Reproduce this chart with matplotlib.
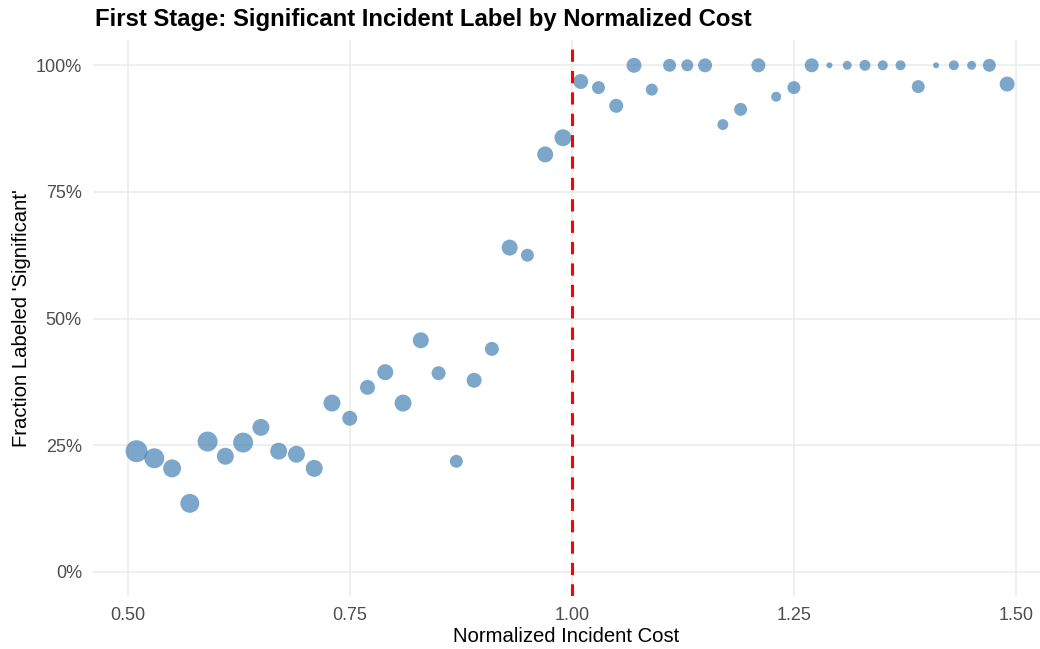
import matplotlib.pyplot as plt
from matplotlib.ticker import PercentFormatter
import numpy as np

plt.rcParams['font.family'] = ['Liberation Sans', 'DejaVu Sans']

# binned normalized cost (bin centers)
cost_bin = [0.51, 0.53, 0.55, 0.57, 0.59, 0.61, 0.63, 0.65, 0.67, 0.69,
            0.71, 0.73, 0.75, 0.77, 0.79, 0.81, 0.83, 0.85, 0.87, 0.89,
            0.91, 0.93, 0.95, 0.97, 0.99, 1.01, 1.03, 1.05, 1.07, 1.09,
            1.11, 1.13, 1.15, 1.17, 1.19, 1.21, 1.23, 1.25, 1.27, 1.29,
            1.31, 1.33, 1.35, 1.37, 1.39, 1.41, 1.43, 1.45, 1.47, 1.49]

# fraction labeled significant
frac_sig = [0.238, 0.224, 0.204, 0.135, 0.257, 0.228, 0.255, 0.285, 0.238, 0.232,
            0.204, 0.333, 0.303, 0.364, 0.394, 0.333, 0.457, 0.392, 0.218, 0.378,
            0.440, 0.640, 0.625, 0.824, 0.857, 0.968, 0.956, 0.920, 1.000, 0.952,
            1.000, 1.000, 1.000, 0.883, 0.913, 1.000, 0.938, 0.956, 1.000, 1.000,
            1.000, 1.000, 1.000, 1.000, 0.958, 1.000, 1.000, 1.000, 1.000, 0.963]

# incidents per bin
n_incidents = [121, 100, 81, 90, 100, 72, 100, 72, 72, 72,
               72, 72, 56, 56, 64, 72, 64, 49, 42, 56,
               49, 64, 42, 64, 72, 56, 42, 49, 56, 36,
               42, 36, 49, 30, 42, 49, 25, 42, 49, 9,
               20, 30, 25, 25, 42, 9, 25, 20, 42, 56]

threshold = 1.0

fig = plt.figure(figsize=(10.4, 6.49), dpi=100)
ax = fig.add_axes([93/1040, 53/649, 1 - 93/1040, 556/649])

sizes = np.array(n_incidents) * 2.07
ax.scatter(cost_bin, frac_sig, s=sizes, color='steelblue', alpha=0.7,
           edgecolors='none', zorder=3)
ax.axvline(threshold, color='red', linewidth=2.2, linestyle=(0, (4, 3)), zorder=4)

ax.set_xlim(0.461, 1.527)
ax.set_ylim(-0.048, 1.05)
ax.set_xticks([0.5, 0.75, 1.0, 1.25, 1.5])
ax.set_xticklabels(['0.50', '0.75', '1.00', '1.25', '1.50'])
ax.set_yticks([0, 0.25, 0.5, 0.75, 1.0])
ax.yaxis.set_major_formatter(PercentFormatter(1.0, decimals=0))

ax.grid(True, color='#EBEBEB', linewidth=1.1, zorder=0)
ax.set_axisbelow(True)
for sp in ax.spines.values():
    sp.set_visible(False)
ax.tick_params(length=0, labelsize=13, labelcolor='#4D4D4D', pad=8)

ax.set_xlabel('Normalized Incident Cost', fontsize=14.6, labelpad=2)
ax.set_ylabel("Fraction Labeled 'Significant'", fontsize=14.6, labelpad=3.5)
fig.text(95/1040, 1 - 26/649, 'First Stage: Significant Incident Label by Normalized Cost',
         fontsize=17.2, fontweight='bold', ha='left', va='baseline')

fig.savefig('out.png', dpi=100)
